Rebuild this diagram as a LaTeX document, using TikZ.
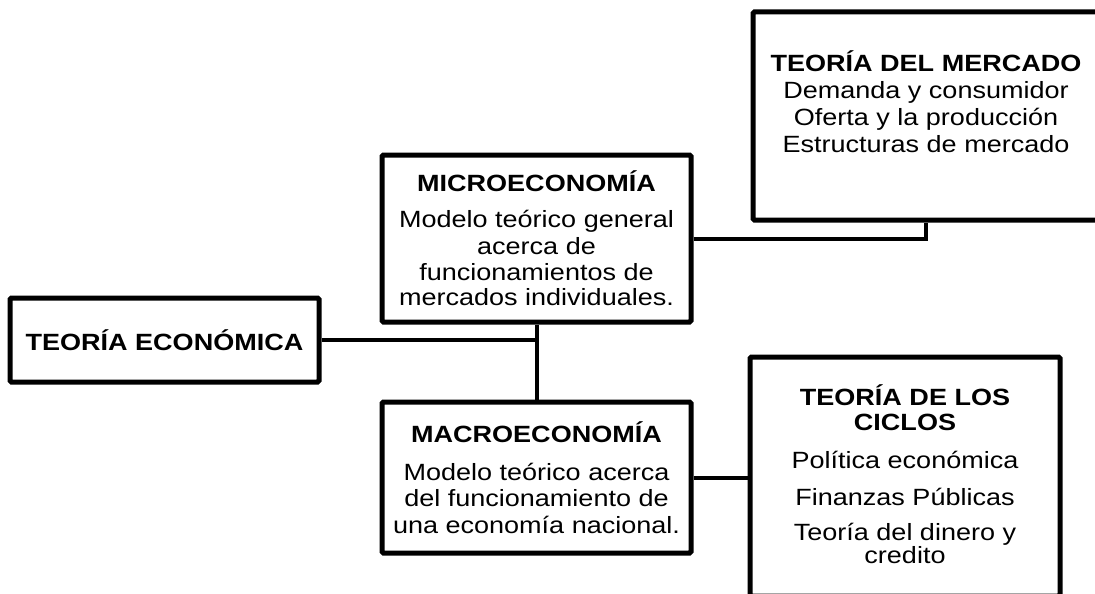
\documentclass[tikz,border=0pt]{standalone}
\usepackage{fontspec}
\setmainfont{Liberation Sans}[FakeStretch=1.15]
\usetikzlibrary{positioning,calc}

\begin{document}
\begin{tikzpicture}[x=1pt,y=-1pt,
        txt/.style={align=center, inner sep=0pt, font=\fontsize{23.5}{27}\selectfont},
        box/.style={txt, draw, line width=5pt, rounded corners=1.5pt},
        link/.style={line width=4pt}]
        \clip (0,0) rectangle (1095,594);

        % Boxes
        \node[box, minimum width=309pt, minimum height=84pt] (teoria) at (164.5,340) {\textbf{TEORÍA ECONÓMICA}};
        \node[box, minimum width=309pt, minimum height=167pt] (micro) at (536.5,238.5)
            {\textbf{MICROECONOMÍA}\\[9pt] Modelo teórico general\\ acerca de\\[-1pt] funcionamientos de\\[-2pt] mercados individuales.};
        \node[box, minimum width=309pt, minimum height=151pt] (macro) at (536.5,477.5)
            {\textbf{MACROECONOMÍA}\\[11pt] Modelo teórico acerca\\[-1pt] del funcionamiento de\\ una economía nacional.};
        \node[box, minimum width=346pt, minimum height=208pt] (mercado) at (926,116) {};
        \node[txt] (mercadotxt) at ([yshift=14pt]mercado.center)
            {\textbf{TEORÍA DEL MERCADO}\\ Demanda y consumidor\\ Oferta y la producción\\ Estructuras de mercado};
        \node[box, minimum width=310pt, minimum height=239pt] (ciclos) at (905,476.5) {};
        \node[txt] (ciclostxt) at ([yshift=2.5pt]ciclos.center)
            {\textbf{TEORÍA DE LOS}\\[-2pt] \textbf{CICLOS}\\[11pt] Política económica\\[10pt] Finanzas Públicas\\[8pt] Teoría del dinero y\\[-4pt] credito};

        % Connectors
        \draw[link] (teoria.east) -- (teoria.east -| micro.south);
        \draw[link] (micro.south) -- (macro.north);
        \draw[link] (micro.east) -| (mercado.south);
        \draw[link] (macro.east) -- (macro.east -| ciclos.west);
    \end{tikzpicture}
\end{document}
